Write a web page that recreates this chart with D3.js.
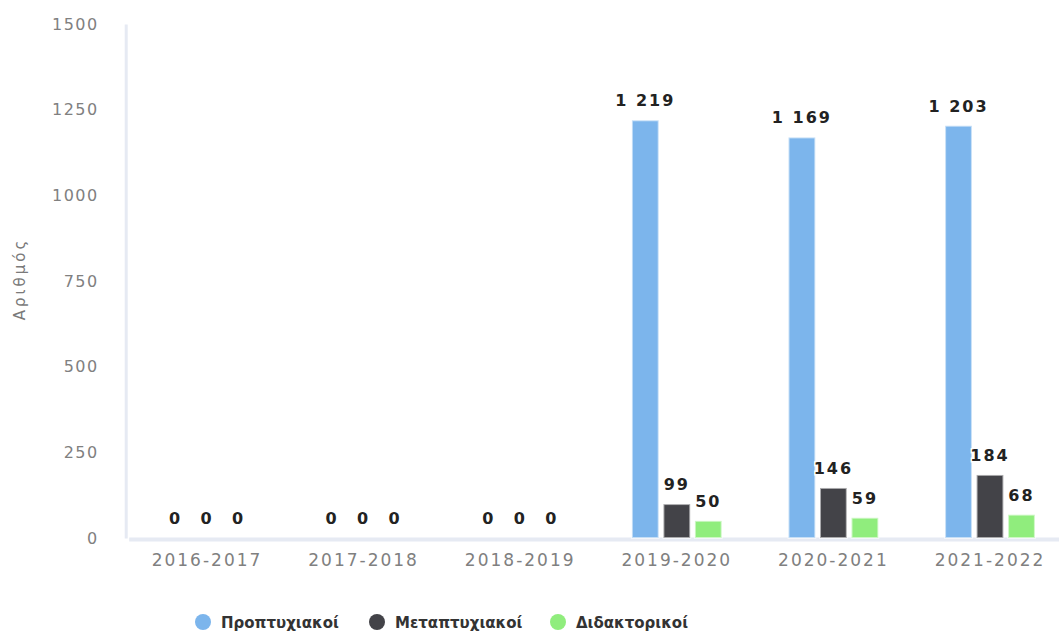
<!DOCTYPE html>
<html><head><meta charset="utf-8">
<script src="https://cdn.jsdelivr.net/npm/d3@7"></script>
<style>
html,body{margin:0;padding:0;background:#fff;}
svg{display:block;}
svg text{font-family:"DejaVu Sans",sans-serif;}
</style></head>
<body><svg id="chart" width="1059" height="634"></svg>
<script>
const categories = ["2016-2017","2017-2018","2018-2019","2019-2020","2020-2021","2021-2022"];
const seriesNames = ["Προπτυχιακοί","Μεταπτυχιακοί","Διδακτορικοί"];
const seriesColors = ["#7cb5ec","#434348","#90ed7d"];
const undergrad = [0,0,0,1219,1169,1203];
const postgrad = [0,0,0,99,146,184];
const doctoral = [0,0,0,50,59,68];
const yTicks = [0,250,500,750,1000,1250,1500];
const yTitle = "Αριθμός";

const seriesValues = [undergrad, postgrad, doctoral];
const svg = d3.select("#chart");
const FONT = "'DejaVu Sans', sans-serif";
const plotLeft = 128.7, plotRight = 1068.3, plotTop = 24, plotBottom = 538;

const x0 = d3.scaleBand().domain(categories).range([plotLeft, plotRight]);
const x1 = d3.scaleBand().domain(seriesNames).range([-47.25, 47.25]).paddingInner(0.15).paddingOuter(0.075);
const y = d3.scaleLinear().domain([0,1500]).range([plotBottom, plotTop]);
const fmt = v => d3.format(",")(v).replace(/,/g, " ");

// y axis
const yAxis = svg.append("g").attr("transform", `translate(${plotLeft-3},0)`)
  .call(d3.axisLeft(y).tickValues(yTicks).tickSize(0).tickPadding(27).tickFormat(d => d));
yAxis.attr("font-family", FONT);
yAxis.select(".domain").attr("stroke", "#e6eaf3").attr("stroke-width", 3);
yAxis.selectAll("text").attr("fill", "#808080").attr("font-size", "16px").style("letter-spacing", "1.5px");

// x axis
const xAxis = svg.append("g").attr("transform", `translate(0,${plotBottom+1})`)
  .call(d3.axisBottom(x0).tickSize(0).tickPadding(15));
xAxis.attr("font-family", FONT);
xAxis.select(".domain").attr("stroke", "#e6eaf3").attr("stroke-width", 4);
xAxis.selectAll("text").attr("fill", "#808080").attr("font-size", "17px").style("letter-spacing", "2px");

// y title
svg.append("text").attr("transform", `translate(25,${(plotTop+plotBottom)/2-2}) rotate(-90)`)
  .attr("text-anchor", "middle").attr("fill", "#7a7a7a").attr("font-size", "15px")
  .style("letter-spacing", "3px").text(yTitle);

// bars
const data = [];
categories.forEach((c, i) => seriesNames.forEach((s, j) => data.push({c, s, j, v: seriesValues[j][i]})));
const g = svg.append("g");
g.selectAll("rect").data(data).join("rect")
  .attr("x", d => x0(d.c) + x0.bandwidth()/2 + x1(d.s))
  .attr("y", d => y(d.v))
  .attr("width", x1.bandwidth())
  .attr("height", d => y(0) - y(d.v))
  .attr("fill", d => seriesColors[d.j])
  .attr("stroke", "rgba(255,255,255,0.55)").attr("stroke-width", 2);

g.selectAll("text.lbl").data(data).join("text").attr("class", "lbl")
  .attr("x", d => x0(d.c) + x0.bandwidth()/2 + x1(d.s) + x1.bandwidth()/2)
  .attr("y", d => y(d.v) - 14)
  .attr("text-anchor", "middle").attr("font-size", "16px").attr("font-weight", "bold")
  .attr("fill", "#222").attr("stroke", "#fff").attr("stroke-width", 3).attr("paint-order", "stroke")
  .style("letter-spacing", "2px")
  .text(d => fmt(d.v));

// legend
const legendX = [203, 377, 558];
const lg = svg.append("g");
seriesNames.forEach((s, i) => {
  lg.append("circle").attr("cx", legendX[i]).attr("cy", 622).attr("r", 8).attr("fill", seriesColors[i]);
  lg.append("text").attr("x", legendX[i] + 18).attr("y", 627.5).attr("fill", "#333")
    .attr("font-size", "15px").attr("font-weight", "bold").text(s);
});
</script></body></html>
